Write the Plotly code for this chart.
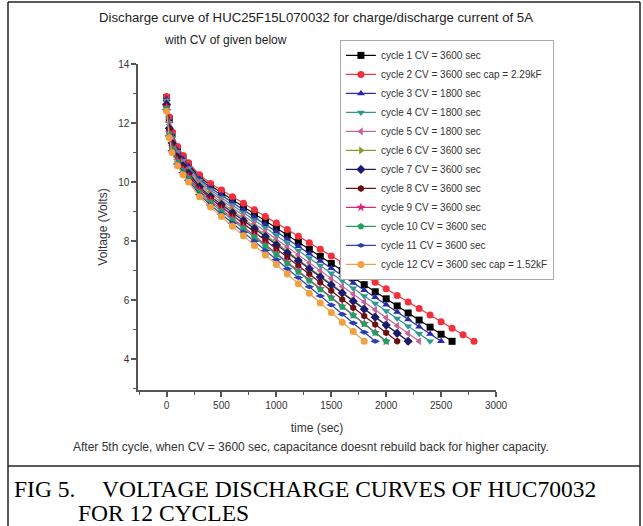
import plotly.graph_objects as go

# ---------------- data ----------------
TIME = [0, 25, 50, 100, 150, 200, 300, 400, 500, 600, 700, 800, 900, 1000,
        1100, 1200, 1300, 1400, 1500, 1600, 1700, 1800, 1900, 2000, 2100,
        2200, 2300, 2400, 2500, 2600, 2700, 2800]

cycle_names = [
    "cycle 1 CV = 3600 sec",
    "cycle 2 CV = 3600 sec cap = 2.29kF",
    "cycle 3 CV = 1800 sec",
    "cycle 4 CV = 1800 sec",
    "cycle 5 CV = 1800 sec",
    "cycle 6 CV = 3600 sec",
    "cycle 7 CV = 3600 sec",
    "cycle 8 CV = 3600 sec",
    "cycle 9 CV = 3600 sec",
    "cycle 10 CV = 3600 sec",
    "cycle 11 CV = 3600 sec",
    "cycle 12 CV = 3600 sec cap = 1.52kF",
]

v_cycle1 = [12.85, 12.14, 11.64, 11.14, 10.84, 10.59, 10.18, 9.88, 9.64, 9.40, 9.16,
            8.92, 8.68, 8.44, 8.20, 7.96, 7.72, 7.48, 7.24, 7.00, 6.76, 6.52, 6.28,
            6.04, 5.80, 5.56, 5.32, 5.08, 4.84, 4.60]
v_cycle2 = [12.9, 12.2, 11.7, 11.2, 10.9, 10.65, 10.25, 9.95, 9.73, 9.50, 9.28, 9.06,
            8.83, 8.61, 8.39, 8.16, 7.94, 7.72, 7.49, 7.27, 7.05, 6.82, 6.60, 6.38,
            6.15, 5.93, 5.71, 5.49, 5.26, 5.04, 4.82, 4.60]
v_cycle3 = [12.81, 12.07, 11.57, 11.08, 10.78, 10.53, 10.11, 9.80, 9.55, 9.31, 9.06,
            8.81, 8.56, 8.31, 8.07, 7.82, 7.57, 7.32, 7.08, 6.83, 6.58, 6.33, 6.09,
            5.84, 5.59, 5.34, 5.09, 4.85, 4.60]
v_cycle4 = [12.76, 12.01, 11.51, 11.02, 10.72, 10.47, 10.05, 9.73, 9.47, 9.22, 8.96,
            8.70, 8.45, 8.19, 7.93, 7.68, 7.42, 7.17, 6.91, 6.65, 6.40, 6.14, 5.88,
            5.63, 5.37, 5.11, 4.86, 4.60]
v_cycle5 = [12.72, 11.95, 11.45, 10.96, 10.66, 10.41, 9.98, 9.66, 9.39, 9.13, 8.86,
            8.59, 8.33, 8.06, 7.80, 7.53, 7.26, 7.00, 6.73, 6.46, 6.20, 5.93, 5.67,
            5.40, 5.13, 4.87, 4.60]
v_cycle6 = [12.67, 11.88, 11.38, 10.90, 10.60, 10.35, 9.91, 9.59, 9.31, 9.04, 8.76,
            8.48, 8.20, 7.93, 7.65, 7.37, 7.09, 6.82, 6.54, 6.26, 5.99, 5.71, 5.43,
            5.16, 4.88, 4.60]
v_cycle7 = [12.63, 11.82, 11.32, 10.85, 10.55, 10.30, 9.84, 9.51, 9.24, 8.96, 8.69,
            8.42, 8.15, 7.87, 7.60, 7.33, 7.06, 6.78, 6.51, 6.24, 5.96, 5.69, 5.42,
            5.15, 4.87, 4.60]
v_cycle8 = [12.58, 11.75, 11.25, 10.79, 10.49, 10.24, 9.77, 9.44, 9.16, 8.87, 8.59,
            8.30, 8.02, 7.73, 7.45, 7.16, 6.88, 6.59, 6.31, 6.02, 5.74, 5.46, 5.17,
            4.89, 4.60]
v_cycle9 = [12.54, 11.69, 11.19, 10.73, 10.43, 10.18, 9.70, 9.37, 9.07, 8.77, 8.48,
            8.18, 7.88, 7.58, 7.28, 6.99, 6.69, 6.39, 6.09, 5.79, 5.49, 5.20, 4.90,
            4.60]
v_cycle10 = [12.49, 11.63, 11.13, 10.67, 10.37, 10.12, 9.64, 9.30, 9.01, 8.71, 8.42,
             8.13, 7.83, 7.54, 7.24, 6.95, 6.66, 6.36, 6.07, 5.77, 5.48, 5.19, 4.89,
             4.60]
v_cycle11 = [12.45, 11.56, 11.06, 10.61, 10.31, 10.06, 9.57, 9.22, 8.91, 8.60, 8.30,
             7.99, 7.68, 7.37, 7.06, 6.76, 6.45, 6.14, 5.83, 5.52, 5.22, 4.91, 4.60]
v_cycle12 = [12.4, 11.5, 11.0, 10.55, 10.25, 10.0, 9.5, 9.15, 8.83, 8.50, 8.18, 7.85,
             7.53, 7.20, 6.88, 6.55, 6.23, 5.90, 5.58, 5.25, 4.93, 4.60]

voltages = [v_cycle1, v_cycle2, v_cycle3, v_cycle4, v_cycle5, v_cycle6,
            v_cycle7, v_cycle8, v_cycle9, v_cycle10, v_cycle11, v_cycle12]

x_ticks = [0, 500, 1000, 1500, 2000, 2500, 3000]
y_ticks = [4, 6, 8, 10, 12, 14]

# ---------------- styles ----------------
colors = ["#000000", "#f0303a", "#2a2aa8", "#2a9a90", "#c8609a", "#8a9a2a",
          "#1a1a70", "#6a1010", "#e0207a", "#20a060", "#2a40b0", "#f0a040"]
symbols = ["square", "circle", "triangle-up", "triangle-down", "triangle-left",
           "triangle-right", "diamond", "hexagon", "star", "pentagon",
           "diamond-wide", "circle"]

fig = go.Figure()
for i in range(len(voltages)):
    v = voltages[i]
    fig.add_trace(go.Scatter(
        x=TIME[:len(v)], y=v, name=cycle_names[i], mode="lines+markers",
        line=dict(color=colors[i], width=1.2),
        marker=dict(color=colors[i], symbol=symbols[i], size=7,
                    line=dict(width=0)),
    ))

FONT = "Liberation Sans, Arial, sans-serif"
axis_common = dict(
    showline=True, linecolor="#555", linewidth=1.5, mirror=False,
    ticks="outside", ticklen=5, tickwidth=1.5, tickcolor="#555",
    showgrid=False, zeroline=False,
    tickfont=dict(family=FONT, size=10, color="#333"),
)

fig.update_layout(
    width=643, height=526, autosize=False,
    margin=dict(l=138, r=147, t=64, b=136),
    paper_bgcolor="white", plot_bgcolor="white",
    font=dict(family=FONT, color="#222"),
    showlegend=True,
    legend=dict(
        x=0.564, y=1.074, xanchor="left", yanchor="top",
        bgcolor="white", bordercolor="#aaa", borderwidth=1,
        font=dict(family=FONT, size=10, color="#333"),
        itemwidth=30, tracegroupgap=0,
    ),
    xaxis=dict(range=[-260, 3000], tickvals=x_ticks,
               minor=dict(ticks="outside", ticklen=3, dtick=250, tick0=0,
                          tickcolor="#555", tickwidth=1.2),
               title=dict(text="time (sec)", standoff=14,
                          font=dict(family=FONT, size=12, color="#333")),
               **axis_common),
    yaxis=dict(range=[2.95, 14], tickvals=y_ticks,
               minor=dict(ticks="outside", ticklen=3, dtick=1, tick0=0,
                          tickcolor="#555", tickwidth=1.2),
               title=dict(text="Voltage (Volts)", standoff=8,
                          font=dict(family=FONT, size=12, color="#333")),
               **axis_common),
)


def px_x(p):
    return (p - 138) / 358


def px_y(p):
    return (390 - p) / 326


# titles and captions
fig.add_annotation(xref="paper", yref="paper", x=px_x(316), y=px_y(18),
                   text="Discharge curve of HUC25F15L070032 for charge/discharge current of 5A",
                   showarrow=False, font=dict(family=FONT, size=13.2, color="#222"),
                   xanchor="center", yanchor="middle")
fig.add_annotation(xref="paper", yref="paper", x=px_x(225), y=px_y(40),
                   text="with CV of given below",
                   showarrow=False, font=dict(family=FONT, size=12, color="#222"),
                   xanchor="center", yanchor="middle")
fig.add_annotation(xref="paper", yref="paper", x=px_x(311), y=px_y(447),
                   text="After 5th cycle, when CV = 3600 sec, capacitance doesnt rebuild back for higher capacity.",
                   showarrow=False, font=dict(family=FONT, size=12, color="#333"),
                   xanchor="center", yanchor="middle")
SERIF = "Liberation Serif, Times New Roman, serif"
fig.add_annotation(xref="paper", yref="paper", x=px_x(12), y=px_y(489),
                   text="FIG 5.", showarrow=False,
                   font=dict(family=SERIF, size=23.5, color="#000"),
                   xanchor="left", yanchor="middle")
fig.add_annotation(xref="paper", yref="paper", x=px_x(100), y=px_y(489),
                   text="VOLTAGE DISCHARGE CURVES OF HUC70032", showarrow=False,
                   font=dict(family=SERIF, size=23.5, color="#000"),
                   xanchor="left", yanchor="middle")
fig.add_annotation(xref="paper", yref="paper", x=px_x(76), y=px_y(513),
                   text="FOR 12 CYCLES", showarrow=False,
                   font=dict(family=SERIF, size=23.5, color="#000"),
                   xanchor="left", yanchor="middle")

# outer frame and separator
frame = dict(color="#222", width=1.5)
fig.add_shape(type="line", xref="paper", yref="paper", x0=px_x(8), x1=px_x(8),
              y0=px_y(2), y1=px_y(526), line=frame)
fig.add_shape(type="line", xref="paper", yref="paper", x0=px_x(640), x1=px_x(640),
              y0=px_y(2), y1=px_y(526), line=frame)
fig.add_shape(type="line", xref="paper", yref="paper", x0=px_x(8), x1=px_x(640),
              y0=px_y(2), y1=px_y(2), line=frame)
fig.add_shape(type="line", xref="paper", yref="paper", x0=px_x(8), x1=px_x(640),
              y0=px_y(466), y1=px_y(466), line=frame)

fig.write_html("out.html")
